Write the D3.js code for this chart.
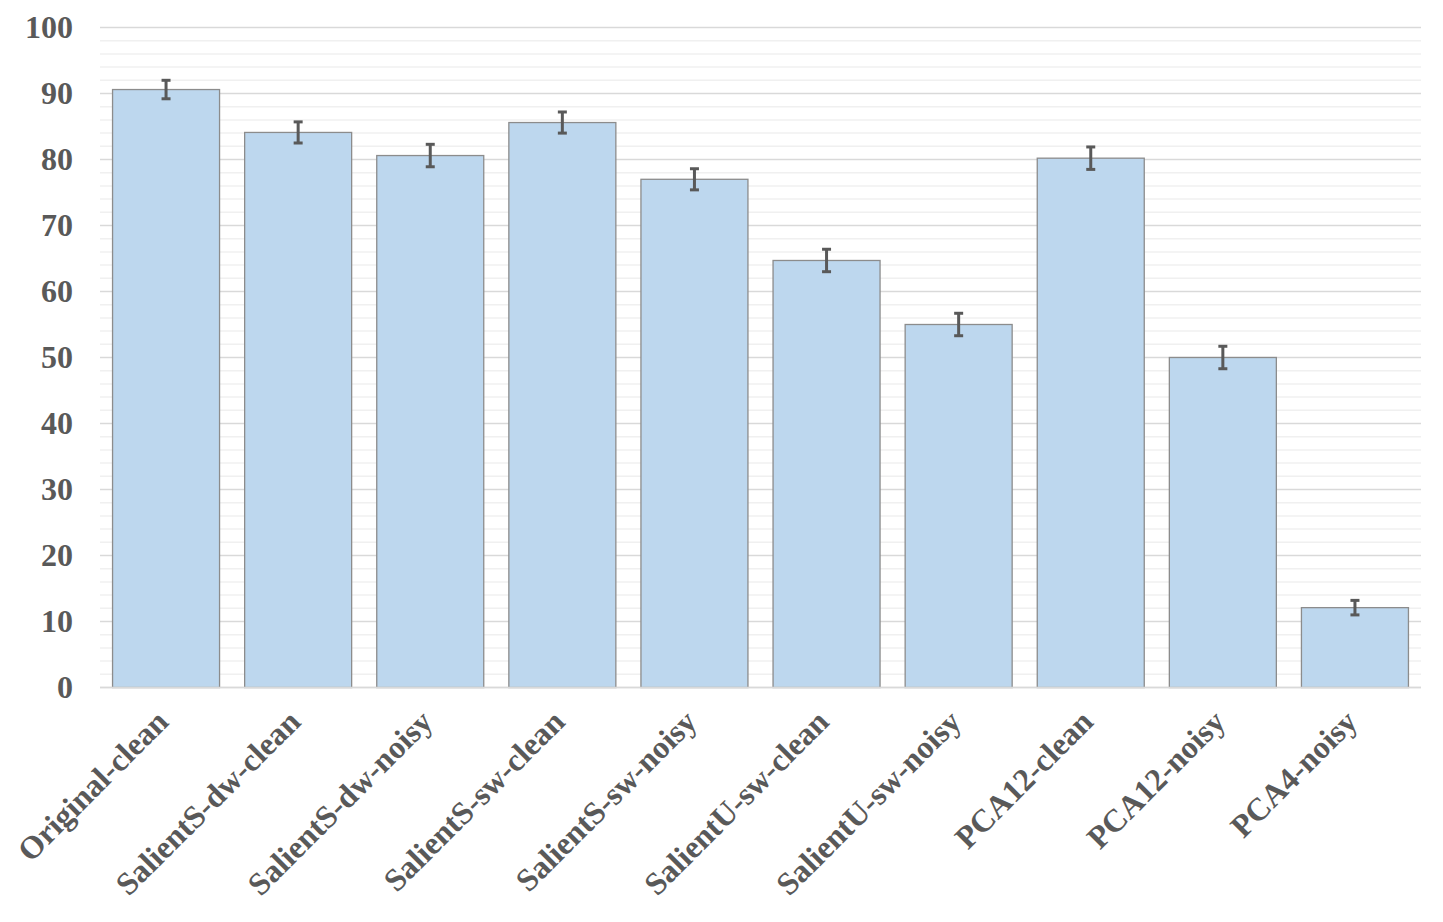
<!DOCTYPE html>
<html>
<head>
<meta charset="utf-8">
<script src="https://cdn.jsdelivr.net/npm/d3@7"></script>
<style>
  body { margin: 0; background: #fff; }
  svg { display: block; }
  .tick text { font-family: "Liberation Serif", "Times New Roman", serif; font-weight: bold; fill: #595959; }
</style>
</head>
<body>
<svg width="1443" height="922"></svg>
<script>
var categories = ["Original-clean", "SalientS-dw-clean", "SalientS-dw-noisy", "SalientS-sw-clean",
    "SalientS-sw-noisy", "SalientU-sw-clean", "SalientU-sw-noisy", "PCA12-clean", "PCA12-noisy", "PCA4-noisy"];
var values = [90.6, 84.1, 80.6, 85.6, 77.0, 64.7, 55.0, 80.2, 50.0, 12.1];
var errors = [1.4, 1.6, 1.7, 1.6, 1.6, 1.7, 1.7, 1.7, 1.7, 1.1];
var yTicks = [0, 10, 20, 30, 40, 50, 60, 70, 80, 90, 100];

var svg = d3.select("svg");
var margin = { top: 27.5, right: 22, bottom: 234.5, left: 100 };
var width = +svg.attr("width") - margin.left - margin.right;
var height = +svg.attr("height") - margin.top - margin.bottom;

var g = svg.append("g").attr("transform", "translate(" + margin.left + "," + margin.top + ")");

var x = d3.scaleBand().domain(categories).range([0, width]).paddingInner(0.19).paddingOuter(0.095);
var y = d3.scaleLinear().domain([0, 100]).range([height, 0]);

// minor grid every 2
g.append("g")
    .selectAll("line")
    .data(d3.range(0, 101, 2).filter(function (d) { return d % 10 !== 0; }))
    .enter().append("line")
    .attr("x1", 0).attr("x2", width)
    .attr("y1", function (d) { return y(d); }).attr("y2", function (d) { return y(d); })
    .attr("stroke", "#f0f0f0").attr("stroke-width", 1.5);

// major grid
g.append("g")
    .selectAll("line")
    .data(yTicks)
    .enter().append("line")
    .attr("x1", 0).attr("x2", width)
    .attr("y1", function (d) { return y(d); }).attr("y2", function (d) { return y(d); })
    .attr("stroke", "#d9d9d9").attr("stroke-width", 1.5);

// y axis labels
var yAxis = g.append("g")
    .call(d3.axisLeft(y).tickValues(yTicks).tickSize(0).tickPadding(27));
yAxis.select(".domain").remove();
yAxis.selectAll("text").style("font-size", "32px");

// bars
g.append("g")
    .selectAll("rect")
    .data(values)
    .enter().append("rect")
    .attr("x", function (d, i) { return x(categories[i]); })
    .attr("y", function (d) { return y(d); })
    .attr("width", x.bandwidth())
    .attr("height", function (d) { return height - y(d); })
    .attr("fill", "#bdd7ee")
    .attr("stroke", "#8c8c8c")
    .attr("stroke-width", 1.3);

// error bars
var eb = g.append("g").attr("stroke", "#595959").attr("stroke-width", 3);
values.forEach(function (v, i) {
    var cx = x(categories[i]) + x.bandwidth() / 2;
    eb.append("line").attr("x1", cx).attr("x2", cx).attr("y1", y(v + errors[i])).attr("y2", y(v - errors[i]));
    eb.append("line").attr("x1", cx - 4.5).attr("x2", cx + 4.5).attr("y1", y(v + errors[i])).attr("y2", y(v + errors[i]));
    eb.append("line").attr("x1", cx - 4.5).attr("x2", cx + 4.5).attr("y1", y(v - errors[i])).attr("y2", y(v - errors[i]));
});

// x axis line
g.append("line")
    .attr("x1", 0).attr("x2", width)
    .attr("y1", height).attr("y2", height)
    .attr("stroke", "#d9d9d9").attr("stroke-width", 1.5);

// x labels
var xAxis = g.append("g")
    .attr("transform", "translate(0," + height + ")")
    .call(d3.axisBottom(x).tickSize(0));
xAxis.select(".domain").remove();
xAxis.selectAll("text")
    .style("font-size", "32px")
    .attr("text-anchor", "end")
    .attr("dy", "0")
    .attr("transform", "translate(2,34) rotate(-45)");
</script>
</body>
</html>
